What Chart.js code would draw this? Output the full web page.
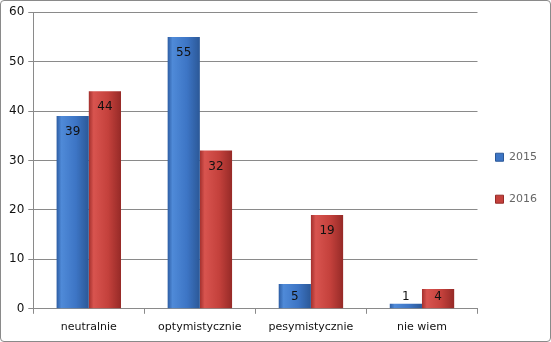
<!DOCTYPE html>
<html><head><meta charset="utf-8">
<script src="https://cdn.jsdelivr.net/npm/chart.js@4"></script>
<style>
html,body{margin:0;padding:0;background:#fff;}
#wrap{position:absolute;left:0;top:0;width:549px;height:340px;border:1px solid #8a8a8a;border-radius:4px;overflow:hidden;}
canvas{display:block;}
</style></head><body>
<div id="wrap"><canvas id="c" width="549" height="340"></canvas></div>
<script>
const categories = ['neutralnie', 'optymistycznie', 'pesymistycznie', 'nie wiem'];
const series2015 = [39, 55, 5, 1];
const series2016 = [44, 32, 19, 4];
const seriesNames = ['2015', '2016'];
const yTicks = [0, 10, 20, 30, 40, 50, 60];

const FONT = 'DejaVu Sans';
const palettes = {
  0: ['#2d5da3', '#4f8ad8', '#3d75c5', '#2b5897'],
  1: ['#a3302d', '#d8544f', '#c4413c', '#962a27']
};

const gradientPlugin = {
  id: 'barGradient',
  beforeDatasetsDraw(chart) {
    const ctx = chart.ctx;
    chart.data.datasets.forEach((ds, i) => {
      const meta = chart.getDatasetMeta(i);
      const p = palettes[i];
      meta.data.forEach(bar => {
        const l = bar.x - bar.width / 2, r = bar.x + bar.width / 2;
        const g = ctx.createLinearGradient(l, 0, r, 0);
        g.addColorStop(0, p[0]);
        g.addColorStop(0.15, p[1]);
        g.addColorStop(0.6, p[2]);
        g.addColorStop(1, p[3]);
        bar.options = Object.assign({}, bar.options, { backgroundColor: g });
      });
    });
  },
  afterDatasetsDraw(chart) {
    const ctx = chart.ctx;
    const base = chart.scales.y.getPixelForValue(0);
    ctx.save();
    ctx.font = '12px ' + FONT;
    ctx.fillStyle = '#111';
    ctx.textAlign = 'center';
    ctx.textBaseline = 'middle';
    chart.data.datasets.forEach((ds, i) => {
      const meta = chart.getDatasetMeta(i);
      meta.data.forEach((bar, j) => {
        const y = Math.min(bar.y + 16, base - 12);
        ctx.fillText(String(ds.data[j]), bar.x, y);
      });
    });
    ctx.restore();
  }
};

new Chart(document.getElementById('c'), {
  type: 'bar',
  data: {
    labels: categories,
    datasets: [
      { label: seriesNames[0], data: series2015, backgroundColor: '#3d75c5', borderWidth: 0 },
      { label: seriesNames[1], data: series2016, backgroundColor: '#c4413c', borderWidth: 0 }
    ]
  },
  options: {
    responsive: false,
    animation: false,
    devicePixelRatio: 1,
    categoryPercentage: 0.58,
    barPercentage: 1.0,
    layout: { padding: { left: 4, top: 10, right: 3, bottom: 0 } },
    plugins: {
      tooltip: { enabled: false },
      legend: {
        position: 'right',
        title: { display: true, text: '', font: { size: 12, lineHeight: 1.2 }, padding: { top: 0, bottom: 3 } },
        labels: {
          boxWidth: 8, boxHeight: 8, padding: 18,
          font: { family: FONT, size: 11, lineHeight: 2.18 }, color: '#111',
          generateLabels(chart) {
            return chart.data.datasets.map((ds, i) => ({
              text: [ds.label], fillStyle: palettes[i][2], strokeStyle: palettes[i][3], lineWidth: 1, datasetIndex: i
            }));
          }
        }
      }
    },
    scales: {
      x: {
        grid: { display: true, offset: true, drawOnChartArea: false, drawTicks: true, tickLength: 5, color: '#8a8a8a' },
        border: { color: '#8a8a8a' },
        ticks: { font: { family: FONT, size: 11 }, color: '#111', padding: 7 }
      },
      y: {
        min: 0, max: 60,
        afterBuildTicks(axis) { axis.ticks = yTicks.map(v => ({ value: v })); },
        grid: { color: '#8a8a8a', tickLength: 5 },
        border: { color: '#8a8a8a' },
        ticks: { font: { family: FONT, size: 12 }, color: '#111', padding: 4 }
      }
    }
  },
  plugins: [gradientPlugin]
});
</script>
</body></html>
